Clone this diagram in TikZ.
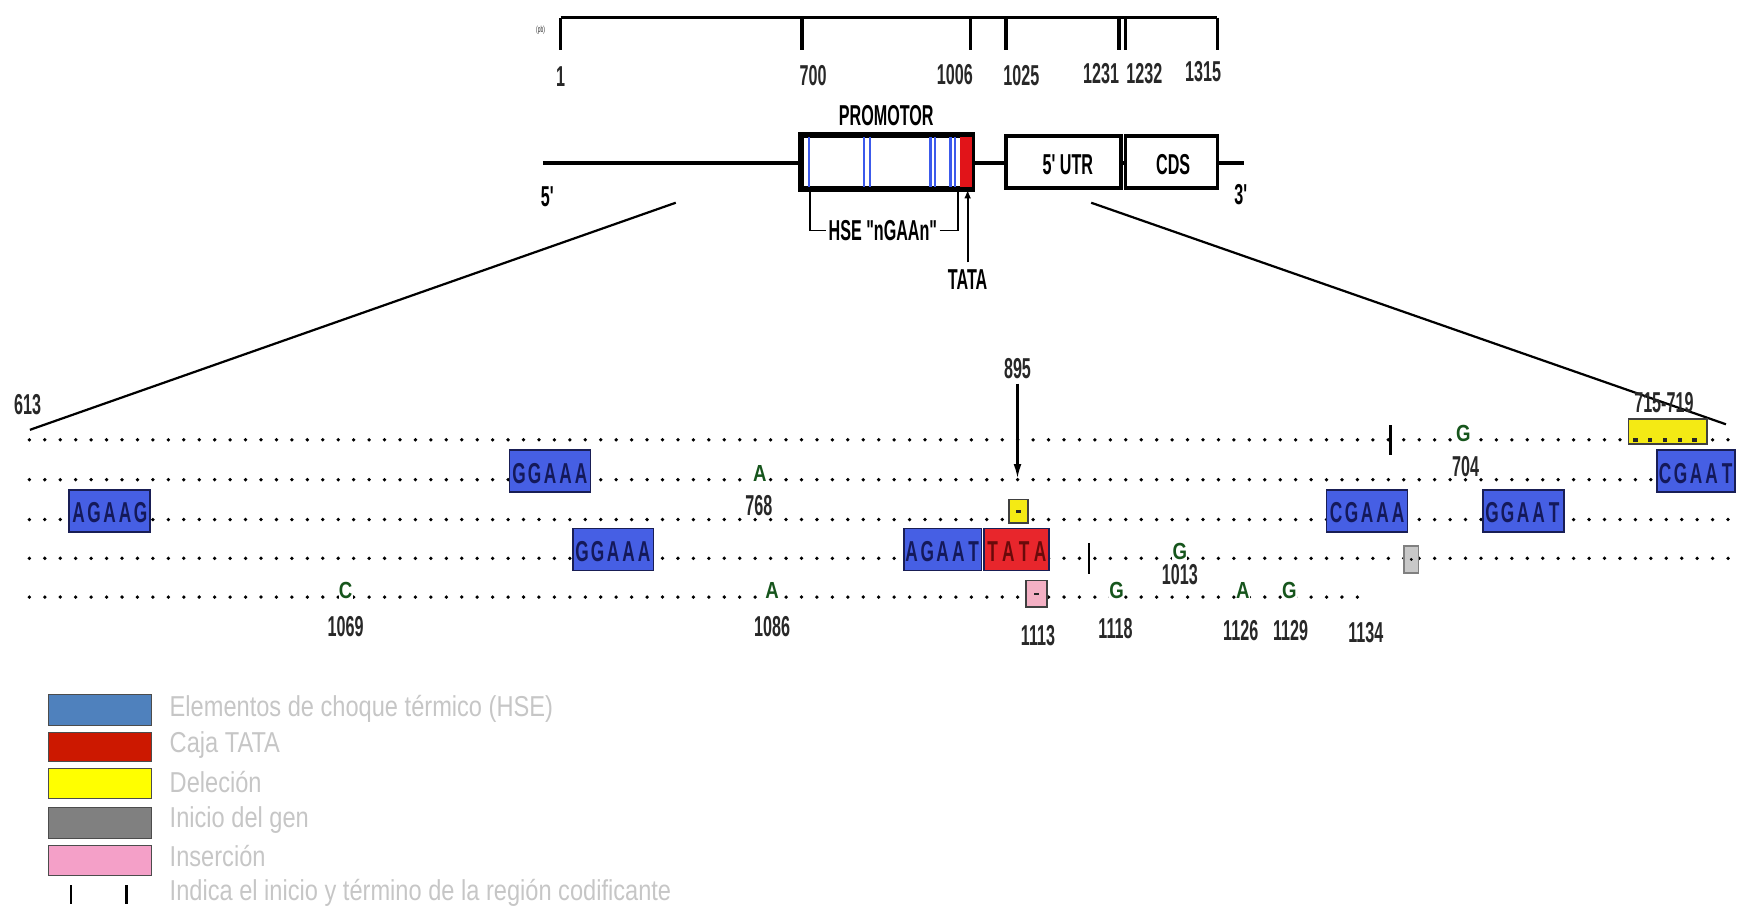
\documentclass[tikz,border=0pt]{standalone}
\usepackage{fontspec}
\setmainfont{Liberation Sans}
\newfontfamily\numf{Liberation Sans}[FakeStretch=0.56]
\newfontfamily\seqf{Liberation Sans}[FakeStretch=0.6]
\newfontfamily\snpf{Liberation Sans}[FakeStretch=0.8]
\newfontfamily\legf{Liberation Sans}[FakeStretch=0.82]
\usetikzlibrary{arrows.meta}

\definecolor{hseblue}{RGB}{70,95,228}
\definecolor{hseedge}{RGB}{25,30,85}
\definecolor{seqink}{RGB}{20,25,90}
\definecolor{tatared}{RGB}{232,38,44}
\definecolor{tataink}{RGB}{105,10,10}
\definecolor{delyellow}{RGB}{244,234,20}
\definecolor{inspink}{RGB}{244,176,196}
\definecolor{startgray}{RGB}{200,200,200}
\definecolor{snpgreen}{RGB}{22,85,28}
\definecolor{labelink}{RGB}{40,40,40}
\definecolor{promblue}{RGB}{60,90,235}
\definecolor{promred}{RGB}{225,20,25}
\definecolor{legblue}{RGB}{79,129,189}
\definecolor{legred}{RGB}{204,24,0}
\definecolor{legyellow}{RGB}{255,255,0}
\definecolor{leggray}{RGB}{128,128,128}
\definecolor{legpink}{RGB}{244,160,200}
\definecolor{legink}{RGB}{198,198,198}

\tikzset{
  lbl/.style={font=\numf\bfseries\fontsize{26}{28}\selectfont, text=labelink, inner sep=0pt},
  headlbl/.style={font=\numf\bfseries\fontsize{26}{28}\selectfont, text=black, inner sep=0pt},
  seqbox/.style={draw=hseedge, line width=1.6pt, minimum height=38pt, inner sep=0pt},
  hse/.style={seqbox, fill=hseblue, minimum width=73pt},
  tata/.style={seqbox, fill=tatared, minimum width=59pt},
  seqtxt/.style={font=\seqf\bfseries\fontsize{26}{28}\selectfont, inner sep=0pt, anchor=base},
  snp/.style={font=\snpf\bfseries\fontsize{21}{23}\selectfont, text=snpgreen, fill=white, inner sep=0.3pt, anchor=base},
  smallbox/.style={draw=black!75, line width=1.4pt, inner sep=0pt},
  genebox/.style={draw=black, line width=3.5pt, fill=white, minimum height=47pt, inner sep=0pt},
  dnaline/.style={line width=4pt},
  zoomline/.style={line width=2pt},
  legbox/.style={draw=black!70, line width=0.8pt, minimum width=93pt, inner sep=0pt},
  legtxt/.style={font=\legf\fontsize{26}{28}\selectfont, text=legink, anchor=west, inner sep=0pt},
  endbar/.style={line width=2.2pt},
  promline/.style={draw=promblue, line width=2pt},
}

% one row of sequence dots
\newcommand\dotrow[2]{\foreach \i in {0,...,#2}{\fill ({26.5+13.94*\i},#1) circle[radius=1.7pt];}}
% spaced letters of a boxed motif: name, first x, step, baseline, colour, letters
\newcommand\seqtext[6]{\foreach \l [count=\k from 0] in {#6}{\node[seqtxt,text=#5] (#1\k) at ({#2+#3*\k},#4) {\l};}}

\begin{document}
\begin{tikzpicture}[x=1pt,y=-1pt]
\useasboundingbox (0,0) rectangle (1568,822.3);

% ---------- ruler ----------
\draw[line width=3pt] (506,16) -- (1099,16);
\foreach \x in {506,724,876,908,1010,1016,1099}{\draw[line width=3pt] (\x,16) -- (\x,45);}
\node[lbl, font=\numf\fontsize{8}{9}\selectfont] (pb) at (488,27) {(pb)};
\node[lbl] (r1) at (506,69) {1};
\node[lbl] (r700) at (734,68) {700};
\node[lbl] (r1006) at (862,67) {1006};
\node[lbl] (r1025) at (922,68) {1025};
\node[lbl] (r1231) at (994,66) {1231};
\node[lbl] (r1232) at (1033,66) {1232};
\node[lbl] (r1315) at (1086,65) {1315};

% ---------- gene ----------
\coordinate (g5) at (490,147);
\coordinate (g3) at (1123,147);
\draw[dnaline] (g5) -- (g3);
\node[genebox, minimum width=153pt] (prom) at (800.5,146.5) {};
\foreach \x in {730,780,785,840,844,858,862}{\draw[promline] (\x,124) -- (\x,169);}
\fill[promred] (866.5,124) rectangle (877,169);
\draw[line width=3.5pt] (prom.north west) rectangle (prom.south east);
\node[genebox, minimum width=104pt] (utr) at (960,146.5) {};
\node[genebox, minimum width=83pt] (cds) at (1057.5,146.5) {};
\node[headlbl] (utrlbl) at (964,149) {5' UTR};
\node[headlbl] (cdslbl) at (1059,149) {CDS};
\node[headlbl] (promlbl) at (800,104) {PROMOTOR};
\node[headlbl] (end5) at (494,178) {5'};
\node[headlbl] (end3) at (1120,176) {3'};
\node[headlbl, inner sep=2pt] (hselbl) at (797,208) {HSE "nGAAn"};
\draw[line width=1.5pt] (731,171) |- (hselbl.west);
\draw[line width=1.5pt] (hselbl.east) -| (865,172);
\node[headlbl] (tatalbl) at (873.5,252) {TATA};
\coordinate (tatapt) at (873.5,171);
\draw[line width=1.6pt, -{Latex[length=8pt,width=6pt]}, shorten <=6pt] (tatalbl) -- (tatapt);

% ---------- zoom lines ----------
\coordinate (zl1) at (610,183);
\coordinate (zl2) at (27,388);
\coordinate (zr1) at (985,183);
\coordinate (zr2) at (1558,383);
\draw[zoomline] (zl1) -- (zl2);
\draw[zoomline] (zr1) -- (zr2);

% ---------- sequence rows ----------
\dotrow{397}{110}
\dotrow{433}{110}
\dotrow{469}{110}
\dotrow{504}{110}
\dotrow{539}{86}

% heat shock elements
\node[hse] (b21) at (496.5,425) {};
\seqtext{s21}{468.5}{14}{436}{seqink}{G,G,A,A,A}
\node[hse, minimum width=70pt] (b22) at (1531,425) {};
\seqtext{s22}{1503}{14}{436}{seqink}{C,G,A,A,T}
\node[hse] (b31) at (99,461) {};
\seqtext{s31}{71}{14}{472}{seqink}{A,G,A,A,G}
\node[hse] (b32) at (1234,461) {};
\seqtext{s32}{1206}{14}{472}{seqink}{C,G,A,A,A}
\node[hse] (b33) at (1375,461) {};
\seqtext{s33}{1347}{14}{472}{seqink}{G,G,A,A,T}
\node[hse] (b41) at (553.5,496) {};
\seqtext{s41}{525.5}{14}{507}{seqink}{G,G,A,A,A}
\node[hse, minimum width=70pt] (b42) at (851,496) {};
\seqtext{s42}{823}{14}{507}{seqink}{A,G,A,A,T}
% TATA box
\node[tata] (b43) at (917.5,496) {};
\seqtext{s43}{896}{14.3}{507}{tataink}{T,A,T,A}

% deletions, insertion, gene start
\node[smallbox, fill=delyellow, minimum width=71pt, minimum height=23pt] (del1) at (1505.5,389.5) {};
\foreach \x in {1476,1489.5,1503,1516.5,1530}{\fill[black!85] (\x-2.2,395.5) rectangle (\x+2.2,399);}
\node[smallbox, fill=delyellow, minimum width=17pt, minimum height=21pt] (del2) at (919.5,461.5) {};
\fill[black!85] (917,460.5) rectangle (922,463);
\node[smallbox, fill=inspink, minimum width=19pt, minimum height=24pt] (ins1) at (935.5,536) {};
\fill[black!85] (933,535) rectangle (938,537.5);
\node[smallbox, draw=gray, fill=startgray, minimum width=13pt, minimum height=24pt] (start1) at (1274,505) {};
\fill (start1.center) circle[radius=1.4pt];

% coding region limits
\draw[endbar] (1255,384) -- (1255,411);
\draw[endbar] (983,490) -- (983,518);

% point changes
\node[snp] (n704) at (1321,398.5) {G};
\node[snp] (n768) at (686,434.5) {A};
\node[snp] (n1013) at (1065,505) {G};
\node[snp] (n1069) at (312,540.5) {C};
\node[snp] (n1086) at (697,540.5) {A};
\node[snp] (n1118) at (1008,540.5) {G};
\node[snp] (n1126) at (1122,540.5) {A};
\node[snp] (n1129) at (1164,540.5) {G};

% positions
\node[lbl] (l613) at (25,365) {613};
\node[lbl] (l704) at (1323,421) {704};
\node[lbl] (l768) at (685,456) {768};
\node[lbl] (l1013) at (1065,519) {1013};
\node[lbl] (l1069) at (312,566) {1069};
\node[lbl] (l1086) at (697,566) {1086};
\node[lbl] (l1113) at (937,574) {1113};
\node[lbl] (l1118) at (1007,567) {1118};
\node[lbl] (l1126) at (1120,569) {1126};
\node[lbl] (l1129) at (1165,569) {1129};
\node[lbl] (l1134) at (1233,571) {1134};
\node[lbl] (l715) at (1502,363) {715-719};
\node[lbl] (l895) at (918.5,333) {895};
\coordinate (p895) at (918.5,432);
\draw[line width=2pt, -{Latex[length=13pt,width=7pt]}, shorten <=4pt] (l895) -- (p895);

% ---------- legend ----------
\node[legbox, fill=legblue, minimum height=28pt] (k1) at (90.5,641) {};
\node[legbox, fill=legred, minimum height=26pt] (k2) at (90.5,674) {};
\node[legbox, fill=legyellow, minimum height=27pt] (k3) at (90.5,707.5) {};
\node[legbox, fill=leggray, minimum height=28pt] (k4) at (90.5,743) {};
\node[legbox, fill=legpink, minimum height=27pt] (k5) at (90.5,776.5) {};
\draw[endbar] (64,799) -- (64,816);
\draw[endbar] (114,799) -- (114,816);
\node[legtxt] (t1) at (153,640) {Elementos de choque térmico (HSE)};
\node[legtxt] (t2) at (153,673) {Caja TATA};
\node[legtxt] (t3) at (153,706) {Deleción};
\node[legtxt] (t4) at (153,740) {Inicio del gen};
\node[legtxt] (t5) at (153,773) {Inserción};
\node[legtxt] (t6) at (153,806) {Indica el inicio y término de la región codificante};
\end{tikzpicture}
\end{document}
